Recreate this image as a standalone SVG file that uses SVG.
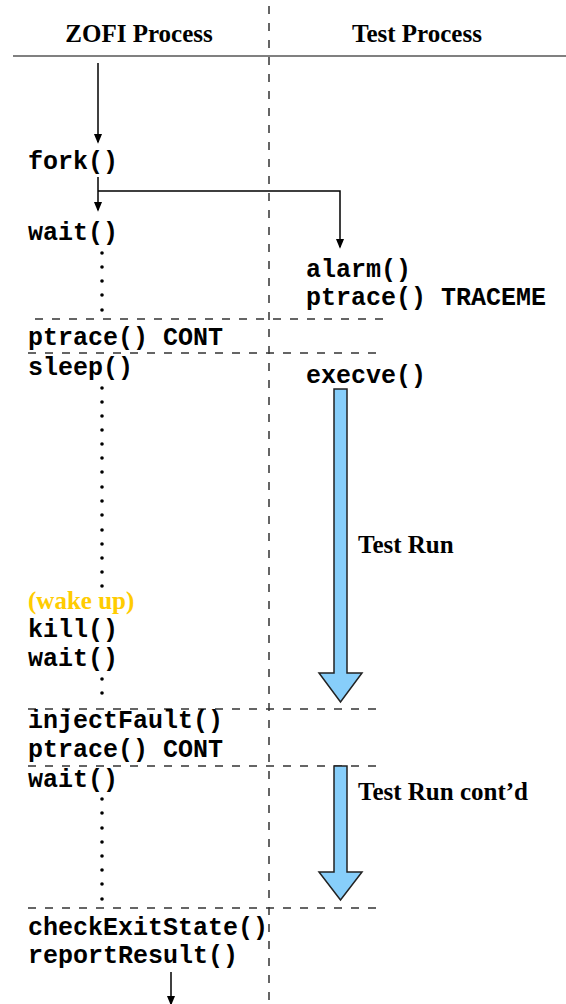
<svg xmlns="http://www.w3.org/2000/svg" width="566" height="1004" viewBox="0 0 566 1004">
<style>
.mono{font-family:"Liberation Mono","Courier New",monospace;font-weight:bold;font-size:25px;fill:#000}
.serif{font-family:"Liberation Serif","Times New Roman",serif;font-weight:bold;font-size:25px;fill:#000}
.hdr{text-anchor:middle}
.dash{stroke:#333;stroke-width:1.5;stroke-dasharray:8 9;fill:none}
.conn{stroke:#000;stroke-width:1.5;fill:none}
.run{fill:#87CEFA;stroke:#222;stroke-width:1.5}
.dot{fill:#000}
</style>
<defs>
<marker id="ah" markerUnits="userSpaceOnUse" markerWidth="10" markerHeight="13" refX="10" refY="5" orient="auto" viewBox="0 0 12 10">
<path d="M0,0 L12,5 L0,10 Z" fill="#000"/>
</marker>
</defs>
<rect width="566" height="1004" fill="#fff"/>
<g id="frame">
<line x1="269" y1="0" x2="269" y2="1004" class="dash" stroke-dashoffset="11"/>
<line x1="13" y1="56" x2="566" y2="56" stroke="#808080" stroke-width="2"/>
<text x="139" y="42" class="serif hdr">ZOFI Process</text>
<text x="417" y="42" class="serif hdr">Test Process</text>
<line x1="35" y1="319" x2="385" y2="319" class="dash"/>
<line x1="28" y1="353" x2="385" y2="353" class="dash"/>
<line x1="28" y1="709" x2="380" y2="709" class="dash"/>
<line x1="28" y1="766" x2="380" y2="766" class="dash"/>
<line x1="28" y1="908" x2="380" y2="908" class="dash"/>
</g>
<g id="connectors">
<line x1="98" y1="63" x2="98" y2="142" class="conn" marker-end="url(#ah)"/>
<line x1="98" y1="177" x2="98" y2="210" class="conn" marker-end="url(#ah)"/>
<polyline points="98,191 340,191 340,247" class="conn" marker-end="url(#ah)"/>
<line x1="171" y1="972" x2="171" y2="1004" class="conn" marker-end="url(#ah)"/>
</g>
<g id="zofi">
<text x="28" y="169" class="mono">fork()</text>
<text x="28" y="240" class="mono">wait()</text>
<text x="28" y="345" class="mono">ptrace() CONT</text>
<text x="28" y="375" class="mono">sleep()</text>
<text x="28" y="609" class="serif" style="fill:#FFCC00">(wake up)</text>
<text x="28" y="637" class="mono">kill()</text>
<text x="28" y="666" class="mono">wait()</text>
<text x="28" y="728" class="mono">injectFault()</text>
<text x="28" y="757" class="mono">ptrace() CONT</text>
<text x="28" y="787" class="mono">wait()</text>
<text x="28" y="935" class="mono">checkExitState()</text>
<text x="28" y="963" class="mono">reportResult()</text>
</g>
<g id="dots">
<circle cx="102" cy="253" r="1.8" class="dot"/>
<circle cx="102" cy="267" r="1.8" class="dot"/>
<circle cx="102" cy="281" r="1.8" class="dot"/>
<circle cx="102" cy="295" r="1.8" class="dot"/>
<circle cx="102" cy="310" r="1.8" class="dot"/>
<circle cx="102" cy="388" r="1.8" class="dot"/>
<circle cx="102" cy="402" r="1.8" class="dot"/>
<circle cx="102" cy="416" r="1.8" class="dot"/>
<circle cx="102" cy="430" r="1.8" class="dot"/>
<circle cx="102" cy="444" r="1.8" class="dot"/>
<circle cx="102" cy="458" r="1.8" class="dot"/>
<circle cx="102" cy="472" r="1.8" class="dot"/>
<circle cx="102" cy="487" r="1.8" class="dot"/>
<circle cx="102" cy="501" r="1.8" class="dot"/>
<circle cx="102" cy="515" r="1.8" class="dot"/>
<circle cx="102" cy="530" r="1.8" class="dot"/>
<circle cx="102" cy="544" r="1.8" class="dot"/>
<circle cx="102" cy="558" r="1.8" class="dot"/>
<circle cx="102" cy="572" r="1.8" class="dot"/>
<circle cx="102" cy="586" r="1.8" class="dot"/>
<circle cx="102" cy="679" r="1.8" class="dot"/>
<circle cx="102" cy="693" r="1.8" class="dot"/>
<circle cx="102" cy="799" r="1.8" class="dot"/>
<circle cx="102" cy="813" r="1.8" class="dot"/>
<circle cx="102" cy="828" r="1.8" class="dot"/>
<circle cx="102" cy="842" r="1.8" class="dot"/>
<circle cx="102" cy="856" r="1.8" class="dot"/>
<circle cx="102" cy="870" r="1.8" class="dot"/>
<circle cx="102" cy="884" r="1.8" class="dot"/>
<circle cx="102" cy="899" r="1.8" class="dot"/>
</g>
<g id="test">
<text x="306" y="277" class="mono">alarm()</text>
<text x="306" y="305" class="mono">ptrace() TRACEME</text>
<text x="306" y="383" class="mono">execve()</text>
</g>
<g id="testrun1">
<polygon points="334,389 347,389 347,673 362,673 340.5,702 319,673 334,673" class="run"/>
<text x="358" y="553" class="serif">Test Run</text>
</g>
<g id="testrun2">
<polygon points="334,766 347,766 347,872 362,872 340.5,900 319,872 334,872" class="run"/>
<text x="358" y="800" class="serif">Test Run cont’d</text>
</g>
</svg>
